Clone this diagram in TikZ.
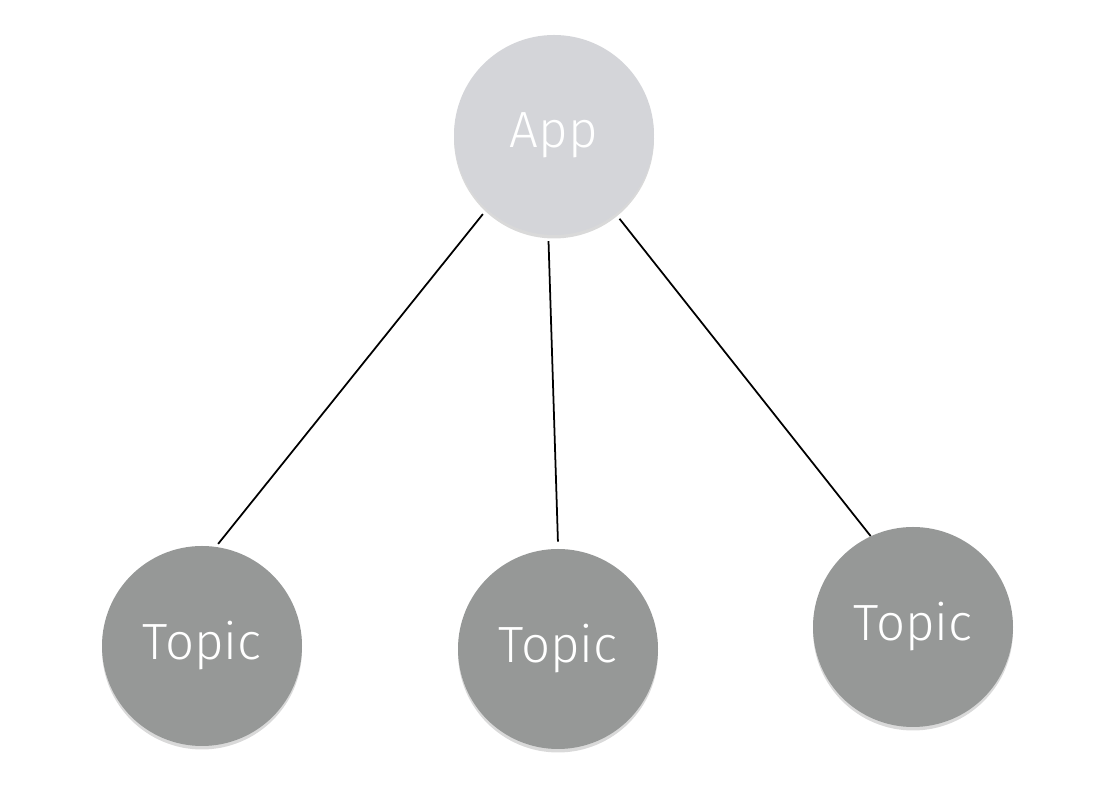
\documentclass[tikz,border=0pt]{standalone}
\usepackage{fontspec}
\newfontfamily\bubblefont{Fira Sans}[UprightFont=* Light]
\usetikzlibrary{positioning, shadows}
\definecolor{appgray}{RGB}{212,213,217}
\definecolor{topicgray}{RGB}{150,152,151}
\tikzset{
	bubble/.style={circle, minimum size=4cm, inner sep=0pt, text=white, font=\bubblefont\fontsize{29}{31}\selectfont,
		drop shadow={opacity=0.3, shadow xshift=0pt, shadow yshift=-0.07cm}}, % common look of every circle
	app/.style={bubble, fill=appgray}, % the light top circle
	topic/.style={bubble, fill=topicgray}, % the darker circles below
	link/.style={draw, line width=1pt}, % plain connecting line
}
\begin{document}
\begin{tikzpicture}
					\useasboundingbox (0,0) rectangle (21.96,16);
					\node[app] (app) at (11.08,13.3) {App};
					\node[topic] (t1) at (4.04,3.08) {Topic};
					\node[topic] (t2) at (11.16,3.02) {Topic};
					\node[topic] (t3) at (18.26,3.46) {Topic};
					\draw[link] ([shift={(228.8:0.12)}]app.228.8) -- ([shift={(81.7:0.06)}]t1.81.7);
					\draw[link] ([shift={(267.8:0.12)}]app.267.8) -- ([shift={(90.5:0.14)}]t2.90.5);
					\draw[link] ([shift={(308.5:0.12)}]app.308.5) -- (t3.115);
				\end{tikzpicture}
\end{document}
